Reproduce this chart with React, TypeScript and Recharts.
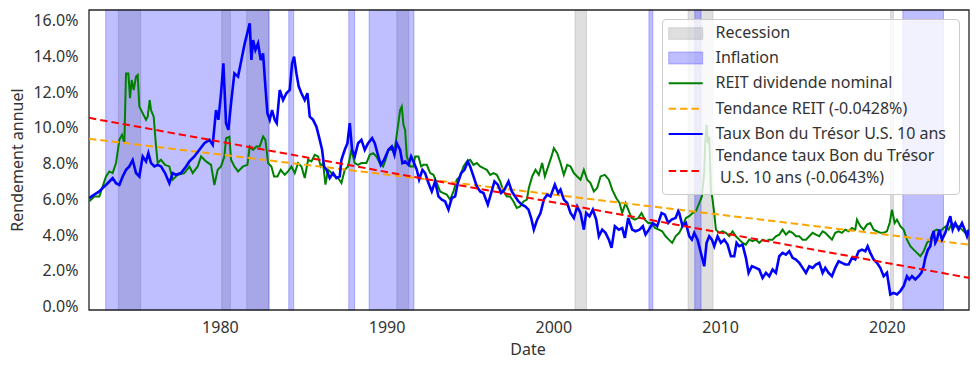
import React from 'react';
import { ComposedChart, Line, XAxis, YAxis, ReferenceArea, Legend } from 'recharts';

const X_MIN = 1972.12;
const X_MAX = 2024.9;
const Y_MIN = -0.2;
const Y_MAX = 16.6;

const yearTicks = [1980, 1990, 2000, 2010, 2020];
const yieldTicks = [0, 2, 4, 6, 8, 10, 12, 14, 16];

const recessionPeriods: [number, number][] = [
  [1973.88, 1975.22], [1980.08, 1980.6], [1981.58, 1982.92], [1990.58, 1991.3],
  [2001.27, 2001.96], [2008.05, 2009.55], [2020.2, 2020.37],
];

const inflationPeriods: [number, number][] = [
  [1973.12, 1982.92], [1984.1, 1984.4], [1987.7, 1988.05], [1988.92, 1991.61],
  [2005.7, 2005.94], [2008.45, 2008.83], [2020.93, 2023.37],
];

const treasuryYield: [number, number][] = [
  [1972.12, 6.07], [1972.44, 6.26], [1972.74, 6.44], [1972.94, 6.63], [1973.24, 6.9], [1973.54, 7.19], [1973.74, 6.9], [1973.94, 6.8],
  [1974.14, 7.28], [1974.34, 7.65], [1974.54, 7.84], [1974.74, 8.2], [1974.94, 7.47], [1975.14, 7.28], [1975.34, 8.4], [1975.54, 8.12],
  [1975.68, 8.58], [1975.84, 8.03], [1976.04, 7.84], [1976.24, 7.93], [1976.44, 7.84], [1976.68, 7.47], [1976.94, 6.9], [1977.14, 7.47],
  [1977.34, 7.37], [1977.64, 7.47], [1977.94, 7.84], [1978.14, 8.12], [1978.44, 8.4], [1978.74, 8.77], [1979.04, 9.14], [1979.34, 9.33],
  [1979.54, 9.05], [1979.74, 11.0], [1979.88, 10.45], [1980.04, 11.94], [1980.18, 13.61], [1980.34, 10.26], [1980.48, 9.89], [1980.64, 11.38],
  [1980.84, 13.05], [1981.06, 12.87], [1981.26, 13.8], [1981.46, 14.73], [1981.66, 15.47], [1981.76, 15.85], [1981.86, 13.8], [1981.96, 14.92],
  [1982.1, 14.36], [1982.26, 14.73], [1982.42, 13.8], [1982.56, 14.17], [1982.7, 12.31], [1982.82, 10.82], [1982.96, 10.45], [1983.1, 11.0],
  [1983.26, 10.45], [1983.38, 10.26], [1983.56, 12.12], [1983.76, 11.56], [1983.96, 11.94], [1984.16, 12.12], [1984.3, 13.61], [1984.42, 13.99],
  [1984.56, 13.05], [1984.7, 12.31], [1984.86, 11.94], [1985.06, 11.56], [1985.22, 11.94], [1985.36, 10.63], [1985.56, 10.45], [1985.76, 10.07],
  [1985.96, 9.33], [1986.1, 8.77], [1986.22, 7.84], [1986.36, 7.65], [1986.56, 7.19], [1986.76, 7.47], [1986.96, 7.19], [1987.16, 7.28],
  [1987.26, 8.21], [1987.46, 8.77], [1987.62, 9.14], [1987.76, 10.26], [1987.9, 8.77], [1988.06, 8.4], [1988.26, 9.14], [1988.46, 9.33],
  [1988.66, 8.77], [1988.86, 9.14], [1989.1, 9.42], [1989.26, 9.14], [1989.42, 8.58], [1989.62, 7.93], [1989.82, 8.21], [1990.08, 8.77],
  [1990.28, 8.96], [1990.44, 8.49], [1990.58, 9.14], [1990.78, 8.77], [1990.92, 8.03], [1991.08, 8.12], [1991.28, 7.93], [1991.44, 8.4],
  [1991.58, 8.12], [1991.78, 7.65], [1991.92, 7.1], [1992.12, 7.65], [1992.28, 7.47], [1992.48, 6.91], [1992.68, 6.44], [1992.88, 7.0],
  [1993.08, 6.16], [1993.28, 5.98], [1993.48, 5.88], [1993.68, 5.42], [1993.88, 6.07], [1994.08, 6.16], [1994.24, 6.91], [1994.44, 7.47],
  [1994.64, 7.65], [1994.84, 8.12], [1994.98, 7.84], [1995.18, 7.28], [1995.38, 6.72], [1995.58, 6.44], [1995.78, 6.35], [1996.04, 5.7],
  [1996.24, 6.35], [1996.44, 7.0], [1996.64, 6.82], [1996.84, 6.35], [1997.04, 6.54], [1997.28, 7.0], [1997.48, 6.44], [1997.68, 6.16],
  [1997.88, 5.88], [1998.08, 5.7], [1998.28, 5.6], [1998.48, 5.42], [1998.64, 4.95], [1998.8, 4.3], [1999.0, 4.86], [1999.2, 5.23],
  [1999.4, 5.98], [1999.6, 6.26], [1999.8, 6.16], [2000.06, 6.82], [2000.26, 6.35], [2000.4, 6.54], [2000.6, 5.98], [2000.8, 5.79],
  [2001.0, 5.23], [2001.2, 4.95], [2001.4, 5.6], [2001.6, 5.23], [2001.8, 4.3], [2001.94, 5.23], [2002.14, 5.05], [2002.34, 5.42],
  [2002.54, 4.86], [2002.7, 3.93], [2002.9, 4.3], [2003.1, 4.12], [2003.3, 3.74], [2003.46, 3.28], [2003.66, 4.49], [2003.9, 4.3],
  [2004.1, 4.39], [2004.26, 3.84], [2004.46, 4.95], [2004.7, 4.3], [2004.9, 4.21], [2005.14, 4.3], [2005.34, 4.49], [2005.5, 4.02],
  [2005.7, 4.3], [2005.94, 4.67], [2006.2, 4.49], [2006.46, 5.23], [2006.66, 5.14], [2006.86, 4.67], [2007.06, 4.86], [2007.3, 4.95],
  [2007.46, 5.33], [2007.52, 5.23], [2007.72, 4.49], [2007.92, 4.67], [2008.12, 3.93], [2008.28, 3.74], [2008.42, 4.12], [2008.62, 3.74],
  [2008.82, 3.0], [2009.02, 2.25], [2009.16, 3.56], [2009.32, 3.93], [2009.48, 3.74], [2009.62, 3.37], [2009.82, 3.93], [2010.02, 3.56],
  [2010.22, 3.74], [2010.42, 3.46], [2010.62, 2.81], [2010.82, 2.81], [2010.96, 3.56], [2011.12, 3.37], [2011.32, 3.46], [2011.52, 2.72],
  [2011.68, 1.88], [2011.88, 2.25], [2012.12, 2.16], [2012.32, 2.07], [2012.52, 1.6], [2012.72, 1.88], [2012.92, 1.69], [2013.12, 2.07],
  [2013.32, 1.88], [2013.52, 2.81], [2013.72, 3.0], [2013.92, 2.9], [2014.12, 3.09], [2014.32, 2.72], [2014.52, 2.63], [2014.72, 2.44],
  [2014.92, 2.16], [2015.12, 1.88], [2015.32, 2.25], [2015.52, 2.16], [2015.72, 2.35], [2015.92, 2.44], [2016.12, 1.88], [2016.28, 2.16],
  [2016.48, 1.88], [2016.68, 1.69], [2016.88, 2.16], [2017.08, 2.53], [2017.28, 2.44], [2017.48, 2.35], [2017.68, 2.35], [2017.88, 2.72],
  [2018.08, 2.63], [2018.28, 3.09], [2018.48, 3.18], [2018.68, 3.09], [2018.82, 3.37], [2018.98, 3.0], [2019.18, 2.63], [2019.38, 2.44],
  [2019.58, 2.16], [2019.78, 1.69], [2019.98, 1.88], [2020.18, 0.67], [2020.38, 0.76], [2020.58, 0.67], [2020.78, 0.86], [2020.98, 1.14],
  [2021.18, 1.69], [2021.32, 1.51], [2021.48, 1.69], [2021.68, 1.51], [2021.88, 1.69], [2022.04, 1.88], [2022.18, 2.25], [2022.28, 2.72],
  [2022.44, 3.18], [2022.58, 3.37], [2022.68, 3.93], [2022.78, 4.21], [2022.88, 3.56], [2022.98, 3.74], [2023.12, 4.3], [2023.28, 3.74],
  [2023.48, 4.12], [2023.64, 4.67], [2023.78, 5.05], [2023.92, 4.3], [2024.08, 4.67], [2024.28, 4.3], [2024.48, 4.67], [2024.64, 4.3],
  [2024.78, 3.93], [2024.9, 4.3],
];

const reitDividend: [number, number][] = [
  [1972.12, 5.88], [1972.44, 6.16], [1972.74, 6.16], [1972.94, 6.72], [1973.14, 7.28], [1973.34, 7.56], [1973.54, 7.47], [1973.74, 8.03],
  [1973.94, 9.33], [1974.1, 9.61], [1974.24, 9.14], [1974.34, 13.05], [1974.48, 13.05], [1974.58, 11.66], [1974.68, 12.68], [1974.8, 12.12],
  [1974.94, 12.87], [1975.04, 12.96], [1975.14, 11.19], [1975.34, 10.82], [1975.54, 10.45], [1975.64, 10.63], [1975.76, 11.56], [1975.84, 11.0],
  [1976.0, 10.63], [1976.14, 8.96], [1976.24, 8.03], [1976.44, 8.21], [1976.68, 7.93], [1976.94, 7.84], [1977.14, 7.1], [1977.44, 7.37],
  [1977.84, 7.47], [1978.14, 7.84], [1978.34, 7.47], [1978.64, 7.84], [1978.84, 8.4], [1979.14, 8.12], [1979.44, 7.93], [1979.64, 6.8],
  [1979.84, 7.65], [1980.04, 7.84], [1980.24, 8.4], [1980.34, 9.42], [1980.54, 9.5], [1980.64, 8.21], [1980.84, 7.84], [1981.06, 7.56],
  [1981.36, 7.84], [1981.62, 7.93], [1981.76, 8.96], [1981.96, 8.77], [1982.16, 8.96], [1982.36, 8.96], [1982.56, 9.52], [1982.7, 9.33],
  [1982.86, 8.03], [1983.06, 7.84], [1983.22, 7.28], [1983.42, 7.28], [1983.62, 7.65], [1983.86, 7.37], [1984.06, 7.56], [1984.26, 7.84],
  [1984.46, 7.47], [1984.66, 8.03], [1984.86, 7.84], [1985.06, 7.19], [1985.26, 8.21], [1985.46, 8.12], [1985.66, 8.49], [1985.86, 8.4],
  [1986.02, 7.84], [1986.16, 8.03], [1986.3, 6.82], [1986.46, 7.65], [1986.66, 7.47], [1986.86, 7.28], [1987.06, 7.19], [1987.26, 6.91],
  [1987.46, 7.65], [1987.66, 7.84], [1987.86, 8.77], [1988.06, 8.03], [1988.26, 7.93], [1988.46, 8.03], [1988.76, 8.03], [1988.96, 8.49],
  [1989.16, 8.58], [1989.36, 8.4], [1989.56, 8.03], [1989.76, 7.84], [1989.88, 8.12], [1990.08, 8.77], [1990.28, 8.77], [1990.48, 8.96],
  [1990.62, 9.89], [1990.78, 11.0], [1990.88, 11.19], [1990.98, 10.17], [1991.08, 9.89], [1991.18, 8.4], [1991.38, 7.84], [1991.58, 7.84],
  [1991.68, 8.4], [1991.88, 8.4], [1992.04, 7.84], [1992.18, 7.93], [1992.38, 7.93], [1992.58, 7.47], [1992.78, 7.37], [1992.98, 6.91],
  [1993.18, 6.44], [1993.38, 6.35], [1993.58, 6.26], [1993.78, 5.98], [1993.98, 6.44], [1994.18, 7.1], [1994.38, 7.28], [1994.58, 7.84],
  [1994.78, 8.12], [1994.98, 8.21], [1995.18, 7.93], [1995.38, 8.03], [1995.58, 7.84], [1995.78, 7.75], [1995.98, 7.65], [1996.18, 7.37],
  [1996.38, 7.47], [1996.58, 7.37], [1996.78, 7.0], [1996.98, 6.44], [1997.18, 6.16], [1997.38, 6.16], [1997.58, 5.88], [1997.78, 5.51],
  [1997.98, 5.6], [1998.18, 5.88], [1998.38, 5.98], [1998.5, 6.63], [1998.7, 7.28], [1998.9, 7.65], [1999.1, 7.37], [1999.3, 8.03],
  [1999.46, 7.28], [1999.66, 7.84], [1999.86, 8.4], [2000.0, 8.86], [2000.2, 8.58], [2000.4, 8.03], [2000.6, 7.37], [2000.8, 7.93],
  [2001.0, 7.84], [2001.2, 7.47], [2001.4, 7.28], [2001.6, 7.1], [2001.8, 7.65], [2002.0, 7.1], [2002.2, 6.91], [2002.4, 6.44],
  [2002.6, 6.63], [2002.8, 7.28], [2003.06, 7.37], [2003.3, 7.1], [2003.5, 6.54], [2003.74, 6.07], [2003.94, 5.79], [2004.1, 5.23],
  [2004.3, 5.79], [2004.46, 5.42], [2004.66, 4.95], [2004.86, 4.86], [2005.06, 4.95], [2005.26, 5.23], [2005.46, 4.86], [2005.66, 4.67],
  [2005.86, 4.67], [2006.06, 4.39], [2006.3, 4.3], [2006.5, 4.21], [2006.7, 3.93], [2006.9, 3.74], [2007.1, 3.56], [2007.3, 3.93],
  [2007.52, 4.12], [2007.72, 4.49], [2007.92, 4.95], [2008.12, 5.05], [2008.32, 5.23], [2008.52, 5.33], [2008.72, 5.79], [2008.88, 6.16],
  [2009.02, 7.5], [2009.08, 9.14], [2009.16, 10.17], [2009.24, 9.14], [2009.32, 9.5], [2009.42, 6.54], [2009.52, 5.98], [2009.62, 5.23],
  [2009.72, 4.3], [2009.92, 4.12], [2010.12, 4.21], [2010.32, 4.12], [2010.52, 3.93], [2010.72, 4.21], [2010.92, 3.93], [2011.12, 3.74],
  [2011.32, 3.56], [2011.52, 3.46], [2011.72, 3.74], [2011.92, 3.65], [2012.12, 3.74], [2012.32, 3.56], [2012.52, 3.74], [2012.72, 3.65],
  [2012.92, 3.74], [2013.12, 3.74], [2013.32, 3.93], [2013.52, 4.02], [2013.72, 4.3], [2013.92, 4.02], [2014.12, 4.21], [2014.32, 4.12],
  [2014.52, 3.93], [2014.72, 3.93], [2014.92, 3.74], [2015.12, 3.74], [2015.32, 3.93], [2015.52, 4.12], [2015.72, 4.02], [2015.92, 3.93],
  [2016.12, 4.21], [2016.28, 4.12], [2016.48, 3.93], [2016.68, 3.74], [2016.88, 4.12], [2017.08, 4.21], [2017.28, 4.12], [2017.48, 4.3],
  [2017.68, 4.21], [2017.88, 4.39], [2018.08, 4.3], [2018.18, 4.86], [2018.38, 4.49], [2018.58, 4.3], [2018.78, 4.58], [2018.98, 4.67],
  [2019.18, 4.3], [2019.38, 4.21], [2019.58, 4.12], [2019.78, 4.12], [2019.98, 4.21], [2020.14, 4.67], [2020.28, 5.42], [2020.44, 4.67],
  [2020.58, 4.86], [2020.78, 4.49], [2020.98, 4.3], [2021.18, 3.74], [2021.38, 3.37], [2021.58, 3.18], [2021.78, 3.0], [2021.98, 2.81],
  [2022.18, 3.09], [2022.38, 3.56], [2022.58, 3.74], [2022.78, 4.21], [2022.98, 4.3], [2023.18, 4.21], [2023.38, 4.39], [2023.52, 4.49],
  [2023.68, 4.3], [2023.88, 4.67], [2024.08, 4.49], [2024.28, 4.49], [2024.48, 4.3], [2024.68, 4.12], [2024.9, 4.3],
];

const reitTrend: [number, number][] = [[1972.12, 9.39], [2024.9, 3.46]];
const treasuryTrend: [number, number][] = [[1972.12, 10.56], [2024.9, 1.6]];

const legendLabels = [
  'Recession',
  'Inflation',
  'REIT dividende nominal',
  'Tendance REIT (-0.0428%)',
  'Taux Bon du Trésor U.S. 10 ans',
  'Tendance taux Bon du Trésor',
  'U.S. 10 ans (-0.0643%)',
];

const FONT = "'Noto Sans', 'DejaVu Sans', sans-serif";
const TEXT = '#333333';
const toPoints = (arr: [number, number][]) => arr.map(([x, y]) => ({ x, y }));

const DASH = '7.4 4';

const rowTops = [3.3, 28.6, 53.8, 79.1, 104.3];

function LegendBox() {
  const textStyle: React.CSSProperties = {
    position: 'absolute',
    left: 53,
    fontFamily: FONT,
    fontSize: 16,
    color: TEXT,
    whiteSpace: 'nowrap',
    margin: 0,
  };
  return (
    <div
      style={{
        position: 'relative',
        width: 298,
        height: 176,
        boxSizing: 'border-box',
        border: '1px solid #cccccc',
        borderRadius: 4,
        background: 'rgba(255,255,255,0.8)',
      }}
    >
      <svg width={298} height={176} style={{ position: 'absolute', left: -1, top: -1, display: 'block' }}>
        <rect x={6.7} y={8.7} width={34} height={11.6} fill="#808080" fillOpacity={0.25} stroke="#808080" strokeOpacity={0.25} />
        <rect x={6.7} y={33} width={34} height={12} fill="#0000ff" fillOpacity={0.25} stroke="#0000ff" strokeOpacity={0.25} />
        <line x1={6.7} x2={40.7} y1={64.3} y2={64.3} stroke="#008000" strokeWidth={2} />
        <line x1={6.7} x2={40.7} y1={89.7} y2={89.7} stroke="#ffa500" strokeWidth={2} strokeDasharray={DASH} />
        <line x1={6.7} x2={40.7} y1={115} y2={115} stroke="#0000ff" strokeWidth={2} />
        <line x1={6.7} x2={40.7} y1={152} y2={152} stroke="#ff0000" strokeWidth={2} strokeDasharray={DASH} />
      </svg>
      {rowTops.map((t, i) => (
        <div key={i} style={{ ...textStyle, top: t - 1, lineHeight: '20px', height: 20 }}>
          {legendLabels[i]}
        </div>
      ))}
      <div style={{ ...textStyle, top: 125.3, lineHeight: '21.9px' }}>
        {legendLabels[5]}
        <br />
        <span style={{ paddingLeft: 4.5 }}>{legendLabels[6]}</span>
      </div>
    </div>
  );
}

const XTick = (props: any) => (
  <text x={props.x} y={333} textAnchor="middle" fontFamily={FONT} fontSize={16} fill={TEXT}>
    {props.payload.value}
  </text>
);

const YTick = (props: any) => (
  <text x={78.5} y={props.y + 5.5} textAnchor="end" fontFamily={FONT} fontSize={16} fill={TEXT}>
    {`${Number(props.payload.value).toFixed(1)}%`}
  </text>
);

export default function App() {
  return (
    <div style={{ position: 'absolute', left: 0, top: 0, width: 978, height: 369, background: '#ffffff' }}>
      <ComposedChart width={978} height={369} margin={{ top: 10, right: 9, bottom: 29, left: 0 }}>
        <XAxis
          dataKey="x"
          type="number"
          domain={[X_MIN, X_MAX]}
          allowDataOverflow
          ticks={yearTicks}
          tick={<XTick />}
          tickLine={false}
          axisLine={false}
          height={30}
          interval={0}
          label={() => (
            <text x={528} y={355} textAnchor="middle" fontFamily={FONT} fontSize={16} fill={TEXT}>Date</text>
          )}
        />
        <YAxis
          type="number"
          domain={[Y_MIN, Y_MAX]}
          allowDataOverflow
          ticks={yieldTicks}
          tick={<YTick />}
          tickLine={false}
          axisLine={false}
          width={89}
          interval={0}
          label={() => (
            <text x={22.5} y={160} transform="rotate(-90 22.5 160)" textAnchor="middle" fontFamily={FONT} fontSize={16} fill={TEXT}>
              Rendement annuel
            </text>
          )}
        />
        {recessionPeriods.map(([a, b], i) => (
          <ReferenceArea key={`r${i}`} x1={a} x2={b} y1={Y_MIN} y2={Y_MAX} fill="#808080" fillOpacity={0.25} stroke="#808080" strokeOpacity={0.25} strokeWidth={1} ifOverflow="visible" />
        ))}
        {inflationPeriods.map(([a, b], i) => (
          <ReferenceArea key={`i${i}`} x1={a} x2={b} y1={Y_MIN} y2={Y_MAX} fill="#0000ff" fillOpacity={0.25} stroke="#0000ff" strokeOpacity={0.25} strokeWidth={1} ifOverflow="visible" />
        ))}
        <Line data={toPoints(reitDividend)} dataKey="y" type="linear" stroke="#008000" strokeWidth={2} dot={false} activeDot={false} isAnimationActive={false} />
        <Line data={toPoints(reitTrend)} dataKey="y" type="linear" stroke="#ffa500" strokeWidth={2} strokeDasharray={DASH} dot={false} activeDot={false} isAnimationActive={false} />
        <Line data={toPoints(treasuryYield)} dataKey="y" type="linear" stroke="#0000ff" strokeWidth={2.6} dot={false} activeDot={false} isAnimationActive={false} />
        <Line data={toPoints(treasuryTrend)} dataKey="y" type="linear" stroke="#ff0000" strokeWidth={2} strokeDasharray={DASH} dot={false} activeDot={false} isAnimationActive={false} />
        <ReferenceArea x1={X_MIN} x2={X_MAX} y1={Y_MIN} y2={Y_MAX} fill="none" stroke="#262626" strokeWidth={1.3} ifOverflow="visible" />
        <Legend
          layout="vertical"
          align="center"
          verticalAlign="middle"
          content={() => <LegendBox />}
          wrapperStyle={{ left: 661.5, top: 18.5, width: 298, height: 176, zIndex: 10 }}
        />
      </ComposedChart>
    </div>
  );
}
